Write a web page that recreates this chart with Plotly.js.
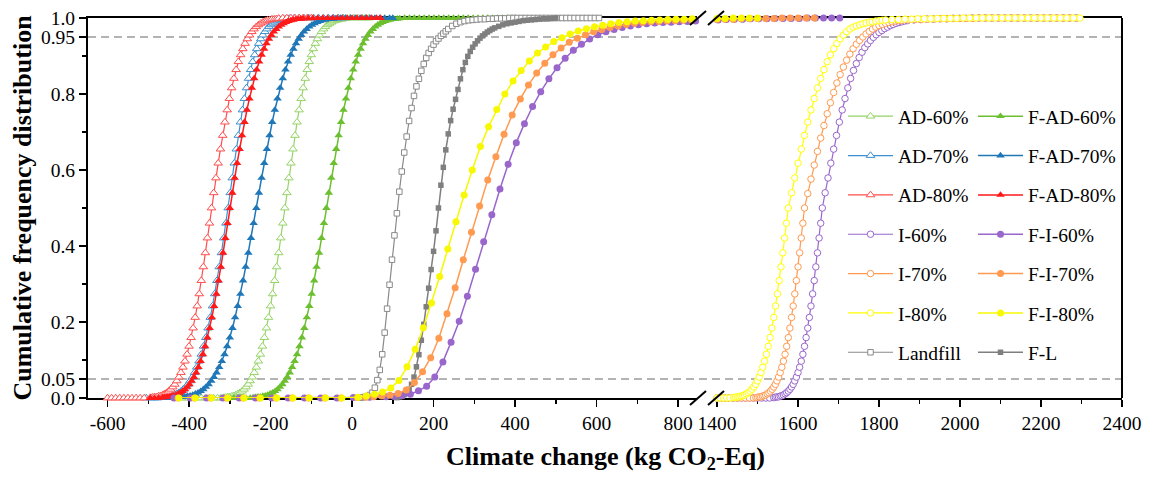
<!DOCTYPE html>
<html><head><meta charset="utf-8">
<script src="https://cdn.plot.ly/plotly-3.0.1.min.js"></script>
<style>html,body{margin:0;padding:0;background:#fff;}#chart{width:1151px;height:479px;}</style>
</head><body><div id="chart"></div>
<script>
// ---------------- DATA ----------------
const ad60X = [-430,-420,-410,-400,-390,-380,-370,-360,-350,-340,-330,-322,
-315,-310,-305,-300,-295,-290,-285,-280,-275,-270,-265,-260,-255,-250,-245,-240,-235,-230,-225,-220,-215,-210,-205,-200,-195,-190,-185,-180,-175,-170,
-165,
-160,-155,-150,-145,-140,-135,-130,-125,-120,-115,-110,-105,-100,-95,-90,-85,-80,-75,-70,-65,-60,-55,-50,-45,-40,-35,-30,-25,-20,-15,
-5,5,15,25,35,42];
const ad60Y = [0,0,0,0,0,0,0,0,0,0,0,0,
.001,.002,.003,.003,.005,.006,.008,.011,.014,.018,.023,.029,.036,.045,.055,.067,.081,.097,.115,.136,.159,.184,.212,.242,.274,.309,.345,.382,.421,.460,
.500,
.540,.579,.618,.655,.691,.726,.758,.788,.816,.841,.864,.885,.903,.919,.933,.945,.955,.964,.971,.977,.982,.986,.989,.992,.994,.995,.997,.997,.998,.999,
1,1,1,1,1,1];

const fad60X = [-300,-290,-280,-270,-260,-250,
-243,-237,-231,-225,-219,-213,-207,-201,-195,-189,-183,-177,-171,-165,-159,-153,-147,-141,-135,-129,-123,-117,-111,-105,-99,-93,-87,-81,-75,-69,
-63,
-57,-51,-45,-39,-33,-27,-21,-15,-9,-3,3,9,15,21,27,33,39,45,51,57,63,69,75,81,87,93,99,105,111,117,
129,141,153,165,177,189,201,213,225,237,249,261,273,285,297,309,321,333,345,357,369,381,393,400];
const fad60Y = [0,0,0,0,0,0,
.001,.002,.003,.003,.005,.006,.008,.011,.014,.018,.023,.029,.036,.045,.055,.067,.081,.097,.115,.136,.159,.184,.212,.242,.274,.309,.345,.382,.421,.460,
.500,
.540,.579,.618,.655,.691,.726,.758,.788,.816,.841,.864,.885,.903,.919,.933,.945,.955,.964,.971,.977,.982,.986,.989,.992,.994,.995,.997,.997,.998,.999,
1,1,1,1,1,1,1,1,1,1,1,1,1,1,1,1,1,1,1,1,1,1,1,1];

const ad70X = [-505,-495,-485,-477,
-469,-463.5,-458,-452.5,-447,-441.5,-436,-430.5,-425,-419.5,-414,-408.5,-403,-397.5,-392,-386.5,-381,-375.5,-370,-364.5,-359,-353.5,-348,-342.5,-337,-331.5,-326,-320.5,-315,-309.5,
-304,
-299,-294,-289,-284,-279,-274,-269,-264,-259,-254,-249,-244,-239,-234,-229,-224,-219,-214,-209,-204,-199,-194,-189,-184,-179,-174,-169,-164,-159,-154,
-142,-130,-118,-106,-94,-82,-70,-58,-46,-34,-22];
const ad70Y = [0,0,0,0,
.001,.002,.003,.003,.005,.006,.008,.011,.014,.018,.023,.029,.036,.045,.055,.067,.081,.097,.115,.136,.159,.184,.212,.242,.274,.309,.345,.382,.421,.460,
.500,
.540,.579,.618,.655,.691,.726,.758,.788,.816,.841,.864,.885,.903,.919,.933,.945,.955,.964,.971,.977,.982,.986,.989,.992,.994,.995,.997,.997,.998,.999,
1,1,1,1,1,1,1,1,1,1,1];

const fad70X = [-495,-485,-475,-465,-455,-445,-437,
-430,-423.5,-417,-410.5,-404,-397.5,-391,-384.5,-378,-371.5,-365,-358.5,-352,-345.5,-339,-332.5,-326,-319.5,-313,-306.5,-300,-293.5,-287,-280.5,-274,-267.5,-261,-254.5,-248,-241.5,
-235,
-228.5,-222,-215.5,-209,-202.5,-196,-189.5,-183,-176.5,-170,-163.5,-157,-150.5,-144,-137.5,-131,-124.5,-118,-111.5,-105,-98.5,-92,-85.5,-79,-72.5,-66,-59.5,-53,-46.5,-40,
-28,-16,-4,8,20,32,44,56,68,80,92,100];
const fad70Y = [0,0,0,0,0,0,0,
.001,.002,.003,.003,.005,.006,.008,.011,.014,.018,.023,.029,.036,.045,.055,.067,.081,.097,.115,.136,.159,.184,.212,.242,.274,.309,.345,.382,.421,.460,
.500,
.540,.579,.618,.655,.691,.726,.758,.788,.816,.841,.864,.885,.903,.919,.933,.945,.955,.964,.971,.977,.982,.986,.989,.992,.994,.995,.997,.997,.998,.999,
1,1,1,1,1,1,1,1,1,1,1,1];

const ad80X = [-600,-590,-580,-570,-560,-550,-540,-530,-520,-510,
-495,-490,-485,-480,-475,-470,-465,-460,-455,-450,-445,-440,-435,-430,-425,-420,-415,-410,-405,-400,-395,-390,-385,-380,-375,-370,-365,-360,-355,-350,
-345,
-339.5,-334,-328.5,-323,-317.5,-312,-306.5,-301,-295.5,-290,-284.5,-279,-273.5,-268,-262.5,-257,-251.5,-246,-240.5,-235,-229.5,-224,-218.5,-213,-207.5,-202,-196.5,-191,-185.5,-180,
-170,-160,-150,-140,-130,-120,-110,-100];
const ad80Y = [0,0,0,0,0,0,0,0,0,0,
.001,.002,.003,.003,.005,.006,.008,.011,.014,.018,.023,.029,.036,.045,.055,.067,.081,.097,.115,.136,.159,.184,.212,.242,.274,.309,.345,.382,.421,.460,
.500,
.540,.579,.618,.655,.691,.726,.758,.788,.816,.841,.864,.885,.903,.919,.933,.945,.955,.964,.971,.977,.982,.986,.989,.992,.994,.995,.997,.997,.998,.999,
1,1,1,1,1,1,1,1];

const fad80X = [-495,-485,-475,
-465,-459.5,-454,-448.5,-443,-437.5,-432,-426.5,-421,-415.5,-410,-404.5,-399,-393.5,-388,-382.5,-377,-371.5,-366,-360.5,-355,-349.5,-344,-338.5,-333,-327.5,-322,-316.5,-311,-305.5,
-300,
-294,-288,-282,-276,-270,-264,-258,-252,-246,-240,-234,-228,-222,-216,-210,-204,-198,-192,-186,-180,-174,-168,-162,-156,-150,-144,-138,-132,-126,-120,
-108,-96,-84,-72,-60,-48,-36,-24,-12,0,12,24,36,48,60,70];
const fad80Y = [0,0,0,
.001,.002,.003,.003,.005,.006,.008,.011,.014,.018,.023,.029,.036,.045,.055,.067,.081,.097,.115,.136,.159,.184,.212,.242,.274,.309,.345,.382,.421,.460,
.500,
.540,.579,.618,.655,.691,.726,.758,.788,.816,.841,.864,.885,.903,.919,.933,.945,.955,.964,.971,.977,.982,.986,.989,.992,.994,.995,.997,.997,.998,.999,
1,1,1,1,1,1,1,1,1,1,1,1,1,1,1,1];

const i60X = [1400,1410,1420,1430,1440,1450,1460,1470,1480,1490,1500,1510,1520,1530,
1540,1544,1548,1552,1556,1560,1564,1568,1572,1576,1580,1584,1588,1592,1596,1600,1604,1608,1612,1616,1620,1624,1628,1632,1636,1640,1644,1648,1652,1656,
1660,
1667,1674,1681,1688,1695,1702,1709,1716,1723,1730,1737,1744,1751,1758,1765,1772,1779,1786,1793,1800,1807,1814,1821,1828,1835,1842,1849,1856,1863,1870,
1886,1902,1918,1934,1950,1966,1982,1998,2014,
2030,2046,2062,2078,2094,2110,2126,2142,2158,2174,2190,2206,2222,2238,2254,2270,2286];
const i60Y = [0,0,0,0,0,0,0,0,0,0,0,0,0,0,
.001,.002,.003,.003,.005,.006,.008,.011,.014,.018,.023,.029,.036,.045,.055,.067,.081,.097,.115,.136,.159,.184,.212,.242,.274,.309,.345,.382,.421,.460,
.500,
.540,.579,.618,.655,.691,.726,.758,.788,.816,.841,.862,.880,.896,.910,.922,.932,.941,.949,.956,.962,.967,.972,.976,.980,.983,.986,.988,.990,.992,.993,
.995,.996,.997,.997,.998,.998,.999,.999,.999,
1,1,1,1,1,1,1,1,1,1,1,1,1,1,1,1,1];

const i70X = [1400,1410,1420,1430,1440,1450,1460,1470,1480,1490,
1496,1500,1504,1508,1512,1516,1520,1524,1528,1532,1536,1540,1544,1548,1552,1556,1560,1564,1568,1572,1576,1580,1584,1588,1592,1596,1600,1604,1608,1612,
1616,
1624,1632,1640,1648,1656,1664,1672,1680,1688,1696,1704,1712,1720,1728,1736,1744,1752,1760,1768,1776,1784,1792,1800,1808,1816,1824,1832,1840,1848,1856,
1872,1888,1904,1920,1936,1952,1968,1984,2000,2016,2032,
2048,2064,2080,2096,2112,2128,2144,2160,2176,2192,2208,2224,2240,2256,2272,2288];
const i70Y = [0,0,0,0,0,0,0,0,0,0,
.001,.002,.003,.003,.005,.006,.008,.011,.014,.018,.023,.029,.036,.045,.055,.067,.081,.097,.115,.136,.159,.184,.212,.242,.274,.309,.345,.382,.421,.460,
.500,
.538,.576,.613,.649,.684,.717,.748,.777,.804,.829,.851,.871,.889,.905,.919,.931,.941,.950,.958,.965,.971,.976,.980,.983,.986,.988,.990,.992,.993,.994,
.995,.996,.996,.997,.997,.998,.998,.999,.999,.999,.999,
1,1,1,1,1,1,1,1,1,1,1,1,1,1,1,1];

const i80X = [1400,1408,1416,1424,1432,
1441,1445.5,1450,1454.5,1459,1463.5,1468,1472.5,1477,1481.5,1486,1490.5,1495,1499.5,1504,1508.5,1513,1517.5,1522,1526.5,1531,1535.5,1540,1544.5,1549,1553.5,1558,1562.5,1567,1571.5,
1576,
1584,1592,1600,1608,1616,1624,1632,1640,1648,1656,1664,1672,1680,1688,1696,1704,1712,1720,1728,1736,1744,1752,1760,1768,1776,1784,1792,1800,1808,1816,
1832,1848,1864,1880,1896,1912,1928,1944,1960,1976,1992,
2008,2024,2040,2056,2072,2088,2104,2120,2136,2152,2168,2184,2200,2216,2232,2248,2264,2280,2296];
const i80Y = [0,0,0,0,0,
.001,.002,.003,.003,.005,.006,.008,.011,.014,.018,.023,.029,.036,.045,.055,.067,.081,.097,.115,.136,.159,.184,.212,.242,.274,.309,.345,.382,.421,.460,
.500,
.540,.579,.618,.655,.691,.726,.758,.788,.816,.841,.864,.885,.903,.919,.933,.945,.955,.964,.971,.976,.979,.982,.985,.987,.989,.990,.992,.993,.994,.995,
.996,.996,.997,.997,.998,.998,.998,.999,.999,.999,.999,
1,1,1,1,1,1,1,1,1,1,1,1,1,1,1,1,1,1,1];

const fi60X = [-437,-397,-357,-317,-277,-237,-197,-157,-117,-77,-37,3,43,83,103,123,
143,163,183,203,223,243,263,283,303,323,343,363,383,403,423,443,463,483,503,523,543,563,583,603,623,643,663,683,703,723,743,763,783,803,823,843,
1403,1423,1443,1463,1483,1503,1523,1543,1563,1583,1603,1623,1643,1663,1683,1703];
const fi60Y = [0,0,0,0,0,0,0,0,0,0,0,.001,.002,.003,.004,.006,
.010,.019,.031,.055,.095,.147,.202,.268,.339,.411,.482,.550,.615,.672,.722,.767,.806,.840,.869,.894,.915,.931,.945,.956,.964,.970,.975,.979,.982,.985,.987,.988,.989,.990,.991,.992,
.995,.996,.997,.997,.998,.998,.998,.999,.999,.999,.999,1,1,1,1,1];

const fi70X = [-427,-387,-347,-307,-267,-227,-187,-147,-107,-67,-27,
13,33,53,73,93,113,133,153,173,193,213,233,253,273,293,313,333,353,373,393,413,433,453,473,493,513,533,553,573,593,613,633,653,673,693,713,733,753,773,793,813,833,
1400,1420,1440,1460,1480,1500,1520,1540,1560,1580,1600,1620,1640];
const fi70Y = [0,0,0,0,0,0,0,0,0,0,0,
.001,.002,.003,.005,.007,.012,.021,.041,.069,.106,.157,.222,.290,.364,.436,.505,.574,.635,.694,.745,.787,.824,.855,.881,.903,.921,.936,.947,.956,.964,.970,.975,.979,.983,.986,.988,.990,.991,.992,.993,.994,.995,
.996,.997,.997,.998,.998,.999,.999,.999,1,1,1,1,1];

const fi80X = [-425,-385,-345,-305,-265,-225,-185,-145,-105,-65,-25,
15,35,55,75,95,115,135,155,175,195,215,235,255,275,295,315,335,355,375,395,415,435,455,475,495,515,535,555,575,595,615,635,655,675,695,715,735,755,775,795,815,835,
1400,1420,1440,1460,1480,1500];
const fi80Y = [0,0,0,0,0,0,0,0,0,0,0,
.002,.005,.010,.016,.026,.046,.082,.128,.185,.250,.320,.392,.464,.534,.600,.662,.714,.759,.800,.834,.862,.887,.908,.924,.938,.948,.958,.966,.972,.977,.981,.985,.988,.990,.992,.993,.994,.995,.996,.997,.997,.998,
.999,.999,1,1,1,1];

const landX = [20,26,32,38,44,50,56,62,68,74,80,86,92,98,104,110,116,122,128,134,140,146,152,158,164,170,176,182,188,194,200,206,212,218,224,230,236,
246,256,266,276,286,296,306,316,326,336,346,356,366,376,
386,396,406,416,426,436,446,456,466,476,486,496,506,516,526,536,546,556,566,576,586,596,606];
const landY = [.001,.002,.003,.005,.008,.014,.027,.047,.074,.115,.172,.235,.298,.364,.428,.486,.543,.596,.646,.688,.729,.763,.795,.820,.840,.861,.879,.895,.908,.919,.930,.939,.946,.953,.959,.965,.971,
.979,.985,.989,.992,.994,.995,.996,.997,.997,.998,.998,.999,.999,.999,
1,1,1,1,1,1,1,1,1,1,1,1,1,1,1,1,1,1,1,1,1,1,1];

const flX = [110,116,122,128,134,140,146,152,158,164,170,176,182,188,194,200,206,212,218,224,230,236,242,248,254,260,266,272,278,284,290,296,302,308,314,320,326,332,338,344,350,
360,370,380,390,400,410,420,430,440,450,460,470,480,490,500];
const flY = [.001,.003,.005,.009,.014,.023,.036,.055,.082,.114,.152,.194,.240,.289,.338,.386,.440,.500,.560,.607,.653,.695,.730,.760,.786,.812,.840,.864,.883,.899,.912,.923,.932,.940,.947,.953,.958,.963,.967,.971,.974,
.978,.982,.985,.987,.989,.991,.993,.994,.995,.996,.997,.998,.998,.999,1];

const xTicksLeft = [-600,-400,-200,0,200,400,600,800];
const xTickTextLeft = ['-600','-400','-200','0','200','400','600','800'];
const xTicksRight = [1400,1600,1800,2000,2200,2400];
const xTickTextRight = ['1400','1600','1800','2000','2200','2400'];
const yTicks = [0,0.05,0.2,0.4,0.6,0.8,0.95,1.0];
const yTickText = ['0.0','0.05','0.2','0.4','0.6','0.8','0.95','1.0'];
const yMinorTicks = [0.1,0.3,0.5,0.7,0.9];
const refLines = [0.05, 0.95];

// ---------------- STYLE ----------------
const FONT = 'Liberation Serif, Times New Roman, serif';
const series = [
  {name:'AD-60%',   x:ad60X,  y:ad60Y,  color:'#95d467', sym:'triangle-up', open:true,  legend:'legend',  rank:1},
  {name:'F-AD-60%', x:fad60X, y:fad60Y, color:'#6cbf2f', sym:'triangle-up', open:false, legend:'legend2', rank:1},
  {name:'AD-70%',   x:ad70X,  y:ad70Y,  color:'#3d8fd0', sym:'triangle-up', open:true,  legend:'legend',  rank:2},
  {name:'F-AD-70%', x:fad70X, y:fad70Y, color:'#1f77b8', sym:'triangle-up', open:false, legend:'legend2', rank:2},
  {name:'AD-80%',   x:ad80X,  y:ad80Y,  color:'#ff4d4d', sym:'triangle-up', open:true,  legend:'legend',  rank:3},
  {name:'F-AD-80%', x:fad80X, y:fad80Y, color:'#ff1a1a', sym:'triangle-up', open:false, legend:'legend2', rank:3},
  {name:'Landfill', x:landX,  y:landY,  color:'#8a8a8a', sym:'square',      open:true,  legend:'legend',  rank:7},
  {name:'F-L',      x:flX,    y:flY,    color:'#7f7f7f', sym:'square',      open:false, legend:'legend2', rank:7},
  {name:'I-60%',    x:i60X,   y:i60Y,   color:'#9966cc', sym:'circle',      open:true,  legend:'legend',  rank:4},
  {name:'F-I-60%',  x:fi60X,  y:fi60Y,  color:'#9966cc', sym:'circle',      open:false, legend:'legend2', rank:4},
  {name:'I-70%',    x:i70X,   y:i70Y,   color:'#ff9a50', sym:'circle',      open:true,  legend:'legend',  rank:5},
  {name:'F-I-70%',  x:fi70X,  y:fi70Y,  color:'#ff9a50', sym:'circle',      open:false, legend:'legend2', rank:5},
  {name:'I-80%',    x:i80X,   y:i80Y,   color:'#ffff00', sym:'circle',      open:true,  legend:'legend',  rank:6},
  {name:'F-I-80%',  x:fi80X,  y:fi80Y,  color:'#f8f800', sym:'circle',      open:false, legend:'legend2', rank:6}
];

const LEFT_MAX = 846, RIGHT_MIN = 1395;
function subset(xs, ys, keep){ const X=[],Y=[]; xs.forEach((v,i)=>{ if(keep(v)){X.push(v);Y.push(ys[i]);} }); return [X,Y]; }

const traces = [];
series.forEach(s => {
  const size = s.sym==='triangle-up' ? 7.5 : (s.sym==='square' ? 5.5 : (s.open ? 6.5 : 7));
  const marker = s.open
    ? {symbol:s.sym, size:size, color:'#ffffff', line:{color:s.color, width:1}}
    : {symbol:s.sym, size:size, color:s.color, line:{width:0}};
  const base = {type:'scatter', mode:'lines+markers', name:s.name, legendgroup:s.name, legend:s.legend,
    legendrank:s.rank, marker:marker, line:{color:s.color, width:s.open?1.2:1.5}, cliponaxis:false, hoverinfo:'skip'};
  const [lx, ly] = subset(s.x, s.y, v => v <= LEFT_MAX);
  const [rx, ry] = subset(s.x, s.y, v => v >= RIGHT_MIN);
  let shown = false;
  if (lx.length) { traces.push(Object.assign({}, base, {x:lx, y:ly, xaxis:'x', yaxis:'y', showlegend:true})); shown = true; }
  if (rx.length) { traces.push(Object.assign({}, base, {x:rx, y:ry, xaxis:'x2', yaxis:'y', showlegend:!shown})); }
});

// plot-area pixel geometry helpers (paper coords)
const L=88, R=1122, T=18, B=398, W=R-L, H=B-T;
const px = v => (v-L)/W, py = v => (B-v)/H;

const axisCommon = {showline:true, linecolor:'#000', linewidth:2, mirror:true, ticks:'outside', ticklen:7, tickwidth:1.5,
  tickcolor:'#000', showgrid:false, zeroline:false, layer:'below traces',
  tickfont:{family:FONT, size:19.5, color:'#000'}, fixedrange:true};

const shapes = [];
refLines.forEach(v => shapes.push({type:'line', xref:'paper', yref:'y', x0:0, x1:1, y0:v, y1:v, layer:'below',
  line:{color:'#9a9a9a', width:1.5, dash:'8px,5px'}}));
shapes.push({type:'line', xref:'paper', yref:'paper', x0:1, x1:1, y0:0, y1:1, layer:'below', line:{color:'#000', width:2}});
[[698,B],[716,B],[698,T],[716,T]].forEach(([cx,cy]) => shapes.push({type:'line', xref:'paper', yref:'paper',
  x0:px(cx-8), x1:px(cx+8), y0:py(cy+7), y1:py(cy-7), line:{color:'#000', width:2}}));

const legendCommon = {xanchor:'left', yanchor:'top', bgcolor:'rgba(0,0,0,0)', borderwidth:0,
  font:{family:FONT, size:19.5, color:'#000'}, itemwidth:45, traceorder:'grouped', tracegroupgap:11, itemclick:false, itemdoubleclick:false};

const layout = {
  width:1151, height:479, margin:{l:L, r:1151-R, t:T, b:479-B, autoexpand:false},
  paper_bgcolor:'#fff', plot_bgcolor:'#fff', font:{family:FONT, color:'#000'}, showlegend:true, hovermode:false,
  xaxis: Object.assign({}, axisCommon, {domain:[0, px(697)], range:[-648, 846.5], anchor:'y',
    tickmode:'array', tickvals:xTicksLeft, ticktext:xTickTextLeft,
    minor:{ticks:'outside', ticklen:4, tickwidth:1.5, tickcolor:'#000', dtick:100, tick0:0}}),
  xaxis2: Object.assign({}, axisCommon, {domain:[px(715), 1], range:[1395, 2400], anchor:'y',
    tickmode:'array', tickvals:xTicksRight, ticktext:xTickTextRight,
    minor:{ticks:'outside', ticklen:4, tickwidth:1.5, tickcolor:'#000', dtick:100, tick0:0}}),
  yaxis: Object.assign({}, axisCommon, {mirror:false, domain:[0,1], range:[0,1], anchor:'x',
    tickmode:'array', tickvals:yTicks, ticktext:yTickText,
    minor:{ticks:'outside', ticklen:4, tickwidth:1.5, tickcolor:'#000', tickvals:yMinorTicks},
    title:{text:'Cumulative frequency distribution', font:{family:FONT, size:26, weight:'bold', color:'#000'}, standoff:2}}),
  legend: Object.assign({}, legendCommon, {x:px(843), y:py(97)}),
  legend2: Object.assign({}, legendCommon, {x:px(973), y:py(97)}),
  shapes: shapes,
  annotations: [{text:'<b>Climate change (kg CO<sub>2</sub>-Eq)</b>', xref:'paper', yref:'paper', x:0.5, y:py(458),
    xanchor:'center', yanchor:'middle', showarrow:false, font:{family:FONT, size:26, color:'#000'}}]
};

Plotly.newPlot('chart', traces, layout, {displayModeBar:false, staticPlot:true});
</script></body></html>
